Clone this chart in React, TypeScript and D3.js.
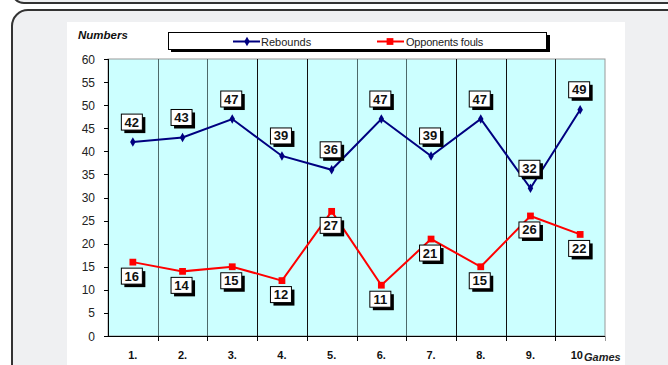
import React from "react";
import * as d3 from "d3";

const games = ["1.", "2.", "3.", "4.", "5.", "6.", "7.", "8.", "9.", "10."];
const gameTickLabels = ["1.", "2.", "3.", "4.", "5.", "6.", "7.", "8.", "9.", "10"];
const rebounds = [42, 43, 47, 39, 36, 47, 39, 47, 32, 49];
const opponentsFouls = [16, 14, 15, 12, 27, 11, 21, 15, 26, 22];
const yTicks = [0, 5, 10, 15, 20, 25, 30, 35, 40, 45, 50, 55, 60];

const W = 668;
const H = 365;
const plot = { left: 108, right: 605, top: 59, bottom: 336 };
const NAVY = "#000080";
const RED = "#ff0000";
const FONT = "Arial, 'Liberation Sans', sans-serif";
const NARROW = "'Liberation Sans Narrow', 'Arial Narrow', Arial, 'Liberation Sans', sans-serif";
const GRID_COLORS = ["#4d6a6a", "#4d6a6a", "#111", "#111", "#4d6a6a", "#4d6a6a", "#111", "#111", "#111"];

function ValueLabel({ cx, cy, text }: { cx: number; cy: number; text: string }) {
  const w = 21;
  const h = 16;
  return (
    <g>
      <rect x={cx - w / 2 + 3} y={cy - h / 2 + 3} width={w} height={h} fill="#000" />
      <rect x={cx - w / 2} y={cy - h / 2} width={w} height={h} fill="#fff" stroke="#000" strokeWidth={1} />
      <text
        x={cx}
        y={cy + 4.5}
        textAnchor="middle"
        fontFamily={NARROW}
        fontWeight="bold"
        fontSize={13}
        fill="#111"
      >
        {text}
      </text>
    </g>
  );
}

export default function App() {
  const x = d3.scaleBand<string>().domain(games).range([plot.left, plot.right]);
  const y = d3.scaleLinear().domain([0, 60]).range([plot.bottom, plot.top]);
  const cx = (i: number) => (x(games[i]) as number) + x.bandwidth() / 2;

  const line = d3
    .line<number>()
    .x((_, i) => cx(i))
    .y((d) => y(d));

  const diamond = d3.symbol().type(d3.symbolDiamond).size(26)() as string;
  const square = d3.symbol().type(d3.symbolSquare).size(46)() as string;

  const boundaries = games.map((g) => x(g) as number).slice(1);

  return (
    <svg
      width={W}
      height={H}
      style={{ position: "absolute", left: 0, top: 0, display: "block" }}
    >
      <rect x={0} y={0} width={W} height={H} fill="#fff" />
      {/* panel frames */}
      <rect x={12} y={-40} width={720} height={43} rx={12} fill="#eff0f2" stroke="#333" strokeWidth={2} />
      <rect x={12} y={10} width={720} height={420} rx={16} fill="#eff0f2" stroke="#333" strokeWidth={2} />
      {/* chart area */}
      <rect x={67} y={22} width={558} height={H - 22} fill="#fff" />

      {/* plot background */}
      <rect
        x={plot.left}
        y={plot.top}
        width={plot.right - plot.left}
        height={plot.bottom - plot.top}
        fill="#ccffff"
        stroke="#999"
        strokeWidth={1}
      />
      {boundaries.map((bx, i) => (
        <line
          key={"g" + i}
          x1={Math.round(bx) + 0.5}
          x2={Math.round(bx) + 0.5}
          y1={plot.top}
          y2={plot.bottom}
          stroke={GRID_COLORS[i]}
          strokeWidth={1}
        />
      ))}

      {/* y axis */}
      <line x1={plot.left + 0.5} x2={plot.left + 0.5} y1={plot.top} y2={plot.bottom} stroke="#000" />
      {yTicks.map((t) => (
        <g key={"y" + t}>
          <line x1={plot.left - 4} x2={plot.left} y1={Math.round(y(t)) + 0.5} y2={Math.round(y(t)) + 0.5} stroke="#000" />
          <text x={plot.left - 13} y={y(t) + 4.5} textAnchor="end" fontFamily={FONT} fontSize={12} fill="#222">
            {t}
          </text>
        </g>
      ))}

      {/* x axis */}
      <line x1={plot.left} x2={plot.right} y1={plot.bottom + 0.5} y2={plot.bottom + 0.5} stroke="#000" />
      {[...boundaries, plot.right].map((bx, i) => (
        <line
          key={"xt" + i}
          x1={Math.round(bx) + 0.5}
          x2={Math.round(bx) + 0.5}
          y1={plot.bottom}
          y2={plot.bottom + 5}
          stroke={i === boundaries.length ? "#999" : "#000"}
        />
      ))}
      {gameTickLabels.map((g, i) => {
        const last = i === gameTickLabels.length - 1;
        return (
          <text
            key={"xl" + i}
            x={last ? 583 : cx(i)}
            y={359}
            textAnchor={last ? "end" : "middle"}
            fontFamily={FONT}
            fontWeight="bold"
            fontSize={11}
            fill="#111"
          >
            {g}
          </text>
        );
      })}
      <text x={584} y={361} fontFamily={FONT} fontWeight="bold" fontStyle="italic" fontSize={11} fill="#222">
        Games
      </text>
      <text x={78} y={39} fontFamily={FONT} fontWeight="bold" fontStyle="italic" fontSize={11.5} fill="#111">
        Numbers
      </text>

      {/* series */}
      <path d={line(rebounds) as string} fill="none" stroke={NAVY} strokeWidth={2} />
      <path d={line(opponentsFouls) as string} fill="none" stroke={RED} strokeWidth={2} />
      {rebounds.map((v, i) => (
        <path key={"rm" + i} d={diamond} transform={`translate(${cx(i)},${y(v)})`} fill={NAVY} />
      ))}
      {opponentsFouls.map((v, i) => (
        <path key={"fm" + i} d={square} transform={`translate(${cx(i)},${y(v)})`} fill={RED} />
      ))}

      {/* value labels */}
      {rebounds.map((v, i) => (
        <ValueLabel key={"rl" + i} cx={cx(i) - 1} cy={y(v) - 20} text={String(v)} />
      ))}
      {opponentsFouls.map((v, i) => (
        <ValueLabel key={"fl" + i} cx={cx(i) - 1} cy={y(v) + 14} text={String(v)} />
      ))}

      {/* legend */}
      <rect x={171} y={35} width={379} height={17} fill="#000" />
      <rect x={168.5} y={32.5} width={378} height={17} fill="#fff" stroke="#000" />
      <line x1={233} x2={260} y1={41.5} y2={41.5} stroke={NAVY} strokeWidth={2} />
      <path d={diamond} transform="translate(247,41.5)" fill={NAVY} />
      <text x={261} y={45.5} fontFamily={FONT} fontSize={11} fill="#222">
        Rebounds
      </text>
      <line x1={377} x2={404} y1={41.5} y2={41.5} stroke={RED} strokeWidth={2} />
      <path d={square} transform="translate(390,41.5)" fill={RED} />
      <text x={406} y={45.5} fontFamily={FONT} fontSize={11} fill="#222" letterSpacing={-0.2}>
        Opponents fouls
      </text>
    </svg>
  );
}
